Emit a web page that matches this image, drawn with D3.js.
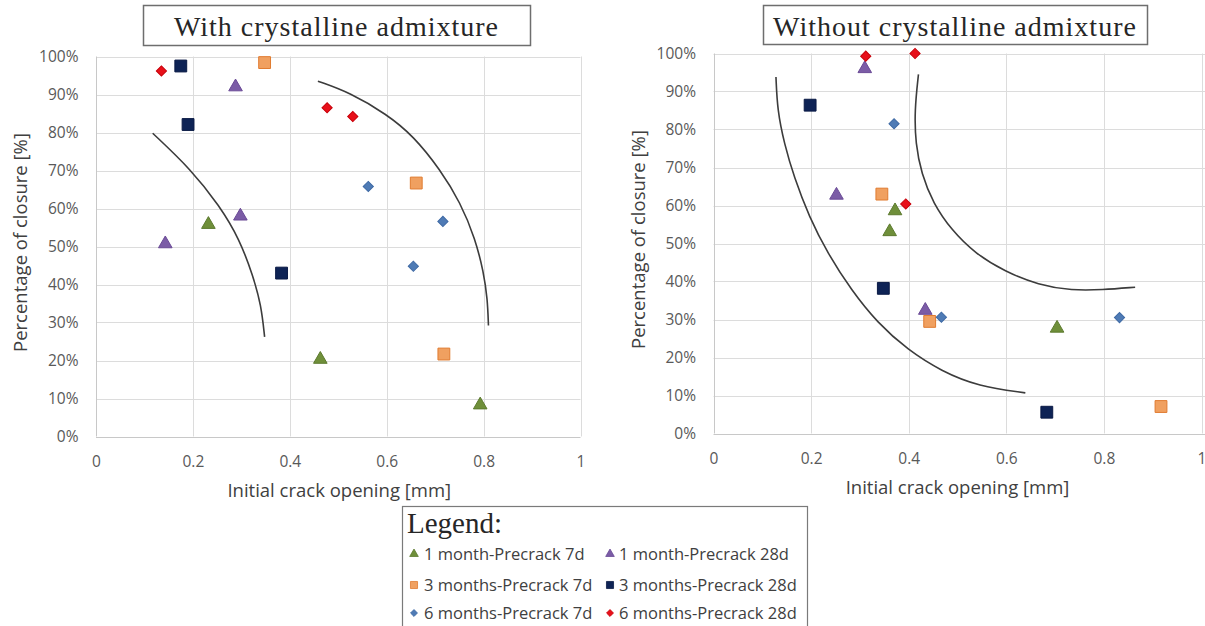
<!DOCTYPE html>
<html>
<head>
<meta charset="utf-8">
<script src="https://cdn.jsdelivr.net/npm/d3@7"></script>
<style>
  html, body { margin: 0; padding: 0; background: #fff; }
  svg { display: block; }
</style>
</head>
<body>
<svg id="chart" width="1205" height="626"></svg>
<script>
// ---------------- DATA ----------------
const xTicks = [0, 0.2, 0.4, 0.6, 0.8, 1];
const xTickLabels = ["0", "0.2", "0.4", "0.6", "0.8", "1"];
const yTicks = [0, 10, 20, 30, 40, 50, 60, 70, 80, 90, 100];
const yTickLabels = ["0%", "10%", "20%", "30%", "40%", "50%", "60%", "70%", "80%", "90%", "100%"];

const seriesNames = [
  "1 month-Precrack 7d", "1 month-Precrack 28d",
  "3 months-Precrack 7d", "3 months-Precrack 28d",
  "6 months-Precrack 7d", "6 months-Precrack 28d"
];

// With crystalline admixture: [initial crack opening mm, closure %]
const with_1m_7d  = [[0.232, 55.8], [0.463, 20.3], [0.793, 8.3]];
const with_1m_28d = [[0.288, 92.0], [0.298, 58.0], [0.143, 50.7]];
const with_3m_7d  = [[0.348, 98.4], [0.661, 66.7], [0.718, 21.7]];
const with_3m_28d = [[0.175, 97.5], [0.190, 82.1], [0.383, 43.0]];
const with_6m_7d  = [[0.562, 65.8], [0.716, 56.6], [0.655, 44.8]];
const with_6m_28d = [[0.135, 96.2], [0.477, 86.5], [0.530, 84.2]];

// Without crystalline admixture
const without_1m_7d  = [[0.361, 53.1], [0.372, 58.6], [0.704, 27.7]];
const without_1m_28d = [[0.310, 96.0], [0.252, 62.7], [0.434, 32.4]];
const without_3m_7d  = [[0.345, 63.0], [0.443, 29.5], [0.917, 7.1]];
const without_3m_28d = [[0.198, 86.4], [0.348, 38.2], [0.683, 5.6]];
const without_6m_7d  = [[0.370, 81.5], [0.467, 30.6], [0.832, 30.5]];
const without_6m_28d = [[0.312, 99.3], [0.413, 100.0], [0.394, 60.4]];

// Hand-drawn guide curves
const withCurveInner = [[0.117, 79.8], [0.196, 70.3], [0.255, 60.7], [0.296, 52], [0.324, 42.3], [0.341, 34.5], [0.348, 26.2]];
const withCurveOuter = [[0.458, 93.5], [0.524, 90.5], [0.600, 84.8], [0.655, 79.1], [0.710, 70.3], [0.752, 61.6], [0.783, 52], [0.800, 43.2], [0.808, 36.2], [0.810, 29.2]];
const withoutCurveInner = [[0.128, 93.8], [0.131, 85], [0.145, 76.3], [0.165, 67.5], [0.196, 57], [0.234, 47.4], [0.282, 37.8], [0.336, 29.1], [0.398, 22], [0.467, 16.4], [0.543, 12.4], [0.639, 10.7]];
const withoutCurveOuter = [[0.420, 94.5], [0.412, 85], [0.414, 76.3], [0.426, 68.4], [0.450, 60.6], [0.488, 53.5], [0.536, 47.4], [0.597, 42.6], [0.666, 39.1], [0.735, 37.6], [0.796, 37.8], [0.864, 38.5]];

// ---------------- STYLE ----------------
const styles = [
  { shape: "triangle", fill: "#6f8f3a", stroke: "#5c7a2e" },
  { shape: "triangle", fill: "#7b5ca6", stroke: "#6a4a96" },
  { shape: "square",   fill: "#f0a060", stroke: "#e07b30" },
  { shape: "square",   fill: "#0e2355", stroke: "#0a1a45" },
  { shape: "diamond",  fill: "#4f7bb5", stroke: "#3f6aa5" },
  { shape: "diamond",  fill: "#e8101a", stroke: "#c8000a" }
];

const svg = d3.select("#chart");
const sansFont = "Open Sans, sans-serif";
const serifFont = "Liberation Serif, Times New Roman, serif";

function markerPath(shape, big) {
  if (shape === "triangle") return d3.symbol(d3.symbolTriangle, big ? 80 : 32)();
  if (shape === "square") return d3.symbol(d3.symbolSquare, big ? 140 : 50)();
  return d3.symbol(d3.symbolSquare, big ? 52 : 24)();
}

function drawPanel(cfg) {
  const x = d3.scaleLinear().domain([0, 1]).range([cfg.x0, cfg.x1]);
  const y = d3.scaleLinear().domain([0, 100]).range([cfg.y0, cfg.y1]);
  const g = svg.append("g");

  // gridlines
  g.append("g").selectAll("line").data(yTicks).join("line")
    .attr("x1", cfg.x0).attr("x2", cfg.gridRight)
    .attr("y1", d => Math.round(y(d)) + 0.5).attr("y2", d => Math.round(y(d)) + 0.5)
    .attr("stroke", d => d === 0 ? "#c8c8c8" : "#dcdcdc").attr("stroke-width", 1);
  g.append("g").selectAll("line").data(xTicks).join("line")
    .attr("y1", cfg.y0).attr("y2", cfg.y1)
    .attr("x1", d => Math.round(x(d)) + 0.5).attr("x2", d => Math.round(x(d)) + 0.5)
    .attr("stroke", d => d === 0 ? "#c8c8c8" : "#dcdcdc").attr("stroke-width", 1);

  // axes with d3 axis generators for labels
  const xAxis = d3.axisBottom(x).tickValues(xTicks).tickFormat((d, i) => xTickLabels[i]).tickSize(0).tickPadding(19);
  const yAxis = d3.axisLeft(y).tickValues(yTicks).tickFormat((d, i) => yTickLabels[i]).tickSize(0).tickPadding(17.5);
  const gx = g.append("g").attr("transform", `translate(0,${cfg.y0})`).call(xAxis);
  const gy = g.append("g").attr("transform", `translate(${cfg.x0},0)`).call(yAxis);
  [gx, gy].forEach(a => {
    a.select(".domain").remove();
    a.selectAll("text").attr("fill", "#595959").attr("font-family", sansFont).attr("font-size", 15.5);
  });

  // axis titles
  g.append("text").attr("x", (cfg.x0 + cfg.x1) / 2 + cfg.xTitleShift).attr("y", cfg.y0 + 60)
    .attr("text-anchor", "middle").attr("font-family", sansFont).attr("font-size", 18.5)
    .attr("fill", "#404040").text("Initial crack opening [mm]");
  g.append("text")
    .attr("transform", `translate(${cfg.yTitleX},${(cfg.y0 + cfg.y1) / 2 - 4}) rotate(-90)`)
    .attr("text-anchor", "middle").attr("font-family", sansFont).attr("font-size", 18.5)
    .attr("fill", "#404040").text("Percentage of closure [%]");

  // curves
  const line = d3.line().x(d => x(d[0])).y(d => y(d[1])).curve(d3.curveBasis);
  cfg.curves.forEach(c => {
    g.append("path").attr("d", line(c)).attr("fill", "none")
      .attr("stroke", "#3c3c3c").attr("stroke-width", 1.6);
  });

  // points
  cfg.series.forEach((s, i) => {
    const st = styles[i];
    g.append("g").selectAll("path").data(s).join("path")
      .attr("d", markerPath(st.shape, true))
      .attr("transform", d => `translate(${x(d[0])},${y(d[1])})` + (st.shape === "diamond" ? " rotate(45)" : ""))
      .attr("fill", st.fill).attr("stroke", st.stroke).attr("stroke-width", 1);
  });

  // title box
  g.append("rect").attr("x", cfg.tBox[0] + 0.5).attr("y", cfg.tBox[1] + 0.5)
    .attr("width", cfg.tBox[2]).attr("height", cfg.tBox[3])
    .attr("fill", "#fff").attr("stroke", "#6e6e6e").attr("stroke-width", 1.5);
  g.append("text").attr("x", cfg.tBox[0] + cfg.tBox[2] / 2).attr("y", cfg.tBox[1] + 31)
    .attr("text-anchor", "middle").attr("font-family", serifFont).attr("font-size", 28)
    .attr("letter-spacing", 1).attr("fill", "#262626").text(cfg.title);
}

drawPanel({
  x0: 96, x1: 580.5, y0: 436.5, y1: 56.5, yTitleX: 27, gridRight: 580.5, xTitleShift: 1,
  title: "With crystalline admixture", tBox: [143, 5, 387, 40],
  series: [with_1m_7d, with_1m_28d, with_3m_7d, with_3m_28d, with_6m_7d, with_6m_28d],
  curves: [withCurveInner, withCurveOuter]
});
drawPanel({
  x0: 713.5, x1: 1201.5, y0: 433.5, y1: 53.5, yTitleX: 645, gridRight: 1205, xTitleShift: 0,
  title: "Without crystalline admixture", tBox: [763, 5, 384, 39],
  series: [without_1m_7d, without_1m_28d, without_3m_7d, without_3m_28d, without_6m_7d, without_6m_28d],
  curves: [withoutCurveInner, withoutCurveOuter]
});

// ---------------- LEGEND ----------------
const lg = svg.append("g");
lg.append("rect").attr("x", 402.5).attr("y", 506.5).attr("width", 405).attr("height", 130)
  .attr("fill", "#fff").attr("stroke", "#7a7a7a").attr("stroke-width", 1.2);
lg.append("text").attr("x", 407).attr("y", 533).attr("font-family", serifFont).attr("font-size", 29)
  .attr("fill", "#262626").text("Legend:");
const colX = [414, 610];
const textX = [424, 619];
const rowY = [554, 585, 613];
seriesNames.forEach((name, i) => {
  const cx = colX[i % 2], cy = rowY[Math.floor(i / 2)];
  const st = styles[i];
  lg.append("path").attr("d", markerPath(st.shape, false))
    .attr("transform", `translate(${cx},${cy})` + (st.shape === "diamond" ? " rotate(45)" : ""))
    .attr("fill", st.fill).attr("stroke", st.stroke).attr("stroke-width", 0.8);
  lg.append("text").attr("x", textX[i % 2]).attr("y", cy + 6).attr("font-family", sansFont)
    .attr("font-size", 16.5).attr("fill", "#404040").text(name);
});
</script>
</body>
</html>
